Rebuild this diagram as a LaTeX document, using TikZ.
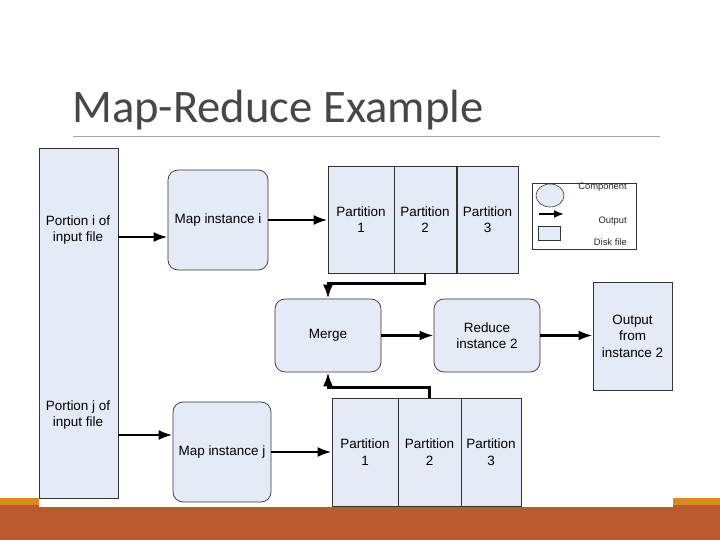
\documentclass[tikz,border=0pt]{standalone}
\usepackage{fontspec}
\setmainfont{Liberation Sans}
\newfontfamily\titlefont{Carlito}
\usetikzlibrary{arrows.meta,shapes.geometric}

\definecolor{diskblue}{HTML}{E5EBF6}
\definecolor{barbrown}{HTML}{BB5A2E}
\definecolor{barorange}{HTML}{E0861F}
\definecolor{titlegray}{HTML}{474747}

\tikzset{
  diskfile/.style={draw=black!80, line width=.6pt, fill=diskblue, inner sep=0pt,
    align=center, font=\fontsize{11.5}{14}\selectfont},
  component/.style={diskfile, rounded corners=.3cm},
  flow/.style={arrows={-{Latex[length=4.2mm,width=3mm]}}, line width=.8mm},
  legendtext/.style={font=\fontsize{8}{9}\selectfont, text=black!85, anchor=east, inner sep=0pt}
}

\begin{document}
\begin{tikzpicture}[x=0.03cm, y=-0.03cm]
\useasboundingbox (0,0) rectangle (720,540);

% slide background
\fill[barorange] (0,498) rectangle (720,505);
\fill[barbrown] (0,505) rectangle (720,540);
\fill[white] (39,140) rectangle (673,507);
\node[anchor=base west, inner sep=0pt, text=titlegray,
  font=\titlefont\fontsize{39.8}{44}\selectfont] at (72,123) (title) {Map-Reduce Example};
\draw[gray!70, line width=.6pt] (73,136) -- (660,136);

% input file
\node[diskfile, minimum width=2.37cm, minimum height=10.5cm] at (78.5,323) (input) {};
\node[align=center, font=\fontsize{11.5}{14}\selectfont] at (78,230) (portioni) {Portion i of\\input file};
\node[align=center, font=\fontsize{11.5}{14}\selectfont] at (78,415) (portionj) {Portion j of\\input file};
\coordinate (ini) at (118,237);
\coordinate (inj) at (118,435);

% map instances
\node[component, minimum width=3cm, minimum height=3cm] at (218,220) (mapi) {Map instance i};
\node[component, minimum width=2.94cm, minimum height=3cm] at (222,452) (mapj) {Map instance j};

% partitions of map i
\node[diskfile, minimum width=1.98cm, minimum height=3.21cm] at (361,219.5) (pi1) {Partition\\1};
\node[diskfile, minimum width=1.86cm, minimum height=3.21cm] at (425,219.5) (pi2) {Partition\\2};
\node[diskfile, minimum width=1.83cm, minimum height=3.21cm] at (487.5,219.5) (pi3) {Partition\\3};

% partitions of map j
\node[diskfile, minimum width=1.98cm, minimum height=3.24cm] at (365,452) (pj1) {Partition\\1};
\node[diskfile, minimum width=1.89cm, minimum height=3.24cm] at (429.5,452) (pj2) {Partition\\2};
\node[diskfile, minimum width=1.8cm, minimum height=3.24cm] at (491,452) (pj3) {Partition\\3};

% reduce side
\node[component, minimum width=3.18cm, minimum height=2.19cm] at (328,335.5) (merge) {Merge};
\node[component, minimum width=3.18cm, minimum height=2.19cm] at (487,335.5) (reduce) {Reduce\\instance 2};
\node[diskfile, minimum width=2.37cm, minimum height=3.24cm] at (632.5,336) (output) {Output\\from\\instance 2};

% legend
\node[draw=black!80, line width=.6pt, fill=white, minimum width=3.12cm, minimum height=1.98cm] at (584,216) (legend) {};
\node[ellipse, draw=black!80, line width=.5pt, fill=diskblue, minimum width=.84cm, minimum height=.69cm, inner sep=0pt] at (550,195.5) (legcomp) {};
\node[draw=black!80, line width=.5pt, fill=diskblue, minimum width=.66cm, minimum height=.42cm, inner sep=0pt] at (549,233) (legdisk) {};
\coordinate (legfrom) at (539,214);
\coordinate (legto) at (564,214);
\node[legendtext] at (627,187) (compname) {Component};
\node[legendtext] at (627,221) (outname) {Output};
\node[legendtext] at (627,242) (diskname) {Disk file};
\draw[arrows={-{Latex[length=3mm,width=2.4mm]}}, line width=.55mm] (legfrom) to (legto);

% data flow
\draw[flow] (ini) to (ini -| mapi.west);
\draw[flow] (inj) to (inj -| mapj.west);
\draw[flow] (mapi.east) to (mapi.east -| pi1.west);
\draw[flow] (mapj.east) to (mapj.east -| pj1.west);
\draw[flow] (pi2.south) -- ++(0,10) -| (merge.north);
\draw[flow] (pj2.north) -- ++(0,-10) -| (merge.south);
\draw[flow] (merge.east) to (reduce.west);
\draw[flow] (reduce.east) to (reduce.east -| output.west);
\end{tikzpicture}
\end{document}
